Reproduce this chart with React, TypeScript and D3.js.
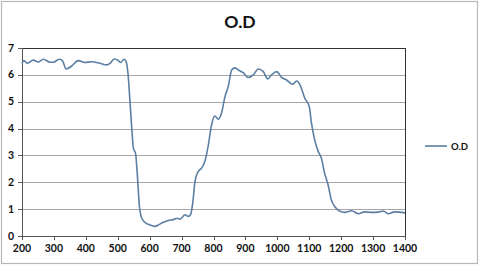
import React from "react";
import * as d3 from "d3";

const wavelengths = [200, 206, 217, 235, 251, 267, 288, 298, 317, 327, 338, 356, 376, 397, 418, 444, 465, 476, 489, 502, 509, 520, 526, 532, 538, 545, 549, 556, 561, 568, 575, 585, 601, 617, 627, 643, 658, 674, 685, 695, 711, 721, 728, 735, 742, 752, 763, 773, 783, 794, 804, 815, 825, 836, 846, 857, 867, 878, 893, 909, 925, 940, 956, 970, 982, 998, 1013, 1029, 1048, 1060, 1071, 1086, 1100, 1107, 1117, 1128, 1138, 1148, 1159, 1169, 1181, 1196, 1212, 1233, 1254, 1274, 1295, 1316, 1332, 1348, 1368, 1400];
const odValues = [6.43, 6.53, 6.43, 6.55, 6.48, 6.58, 6.47, 6.47, 6.58, 6.52, 6.22, 6.33, 6.53, 6.46, 6.49, 6.43, 6.37, 6.43, 6.59, 6.53, 6.46, 6.58, 6.5, 6.06, 5.07, 3.83, 3.27, 3.06, 2.34, 1.1, 0.67, 0.51, 0.41, 0.36, 0.41, 0.51, 0.58, 0.61, 0.66, 0.63, 0.79, 0.73, 0.79, 1.23, 2.03, 2.4, 2.53, 2.78, 3.33, 4.14, 4.47, 4.35, 4.57, 5.19, 5.56, 6.18, 6.26, 6.18, 6.08, 5.9, 6.0, 6.22, 6.12, 5.85, 6.0, 6.12, 5.91, 5.81, 5.65, 5.77, 5.63, 5.13, 4.82, 4.2, 3.58, 3.15, 2.9, 2.34, 1.91, 1.35, 1.08, 0.92, 0.88, 0.94, 0.83, 0.9, 0.88, 0.89, 0.93, 0.83, 0.9, 0.86];
const xTicks = [200, 300, 400, 500, 600, 700, 800, 900, 1000, 1100, 1200, 1300, 1400];
const yTicks = [0, 1, 2, 3, 4, 5, 6, 7];
const seriesName = "O.D";
const title = "O.D";

export default function App() {
  const W = 480, H = 266;
  const left = 22, right = 405, top = 48, bottom = 236;
  const x = d3.scaleLinear().domain([200, 1400]).range([left, right]);
  const y = d3.scaleLinear().domain([0, 7]).range([bottom, top]);
  const data = wavelengths.map((w, i) => [w, odValues[i]] as [number, number]);
  const line = d3.line<[number, number]>().x(d => x(d[0])).y(d => y(d[1])).curve(d3.curveMonotoneX);
  const font = "Lato, 'Open Sans', sans-serif";
  const color = "#5b7fa3";
  return (
    <svg width={W} height={H} style={{ position: "absolute", left: 0, top: 0, background: "#fff" }}>
      <rect x={1.5} y={1.5} width={476} height={262} fill="#fff" stroke="#b8b8b8" strokeWidth={1.2} />
      <text x={240} y={28} textAnchor="middle" fontFamily={font} fontWeight="bold" fontSize={17.5} fill="#111">{title}</text>
      {yTicks.map(t => (
        <line key={"g" + t} x1={left} x2={right} y1={Math.round(y(t)) + 0.5} y2={Math.round(y(t)) + 0.5} stroke="#a6a6a6" strokeWidth={1} />
      ))}
      <line x1={left} x2={right} y1={top + 0.5} y2={top + 0.5} stroke="#333" strokeWidth={1} />
      <line x1={right + 0.5} x2={right + 0.5} y1={top} y2={bottom} stroke="#333" strokeWidth={1} />
      <line x1={left + 0.5} x2={left + 0.5} y1={top} y2={bottom} stroke="#555" strokeWidth={1} />
      <line x1={left} x2={right} y1={bottom + 0.5} y2={bottom + 0.5} stroke="#555" strokeWidth={1} />
      {yTicks.map(t => (
        <g key={"y" + t}>
          <line x1={left - 4} x2={left} y1={Math.round(y(t)) + 0.5} y2={Math.round(y(t)) + 0.5} stroke="#555" />
          <text x={left - 8} y={y(t) + 3.5} textAnchor="end" fontFamily={font} fontWeight="bold" fontSize={10.5} fill="#111">{t}</text>
        </g>
      ))}
      {xTicks.map(t => (
        <g key={"x" + t}>
          <line x1={Math.round(x(t)) + 0.5} x2={Math.round(x(t)) + 0.5} y1={bottom} y2={bottom + 4} stroke="#555" />
          <text x={x(t)} y={bottom + 16} textAnchor="middle" fontFamily={font} fontWeight="bold" fontSize={10.5} fill="#111">{t}</text>
        </g>
      ))}
      <path d={line(data) || ""} fill="none" stroke={color} strokeWidth={1.6} strokeLinejoin="round" />
      <line x1={425} x2={447} y1={146} y2={146} stroke={color} strokeWidth={1.6} />
      <text x={451} y={149.5} fontFamily={font} fontWeight="bold" fontSize={9.5} fill="#111">{seriesName}</text>
    </svg>
  );
}
